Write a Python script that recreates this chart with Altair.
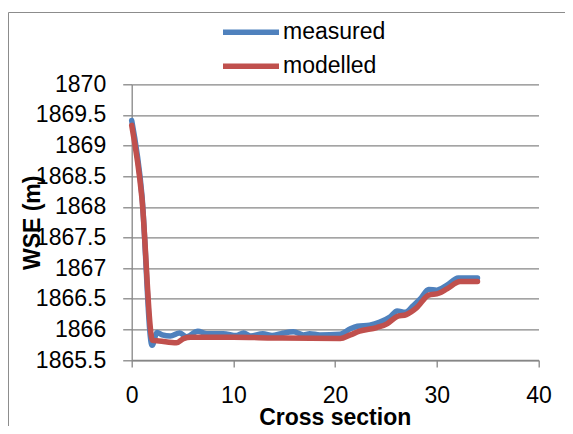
import altair as alt
import pandas as pd

# measured WSE
meas_x = [0, 1, 2, 2.5, 3, 3.8, 4.7, 5.4, 6.5, 7.4, 9, 10.3, 11, 11.7, 12.9, 13.8,
          14.7, 15.9, 16.9, 17.5, 18.5, 20.5, 21.5, 22.2, 23.4, 24.4, 25.4, 26.1,
          26.9, 27.7, 28.4, 29.2, 30, 31, 32.1, 34]
meas_y = [1869.41, 1868.2, 1865.74, 1865.95, 1865.91, 1865.89, 1865.94, 1865.88,
          1865.97, 1865.93, 1865.93, 1865.90, 1865.94, 1865.89, 1865.93, 1865.90,
          1865.93, 1865.96, 1865.91, 1865.93, 1865.91, 1865.92, 1866.01, 1866.05,
          1866.07, 1866.12, 1866.20, 1866.30, 1866.28, 1866.39, 1866.50, 1866.65,
          1866.64, 1866.72, 1866.84, 1866.84]

# modelled WSE
mod_x = [0, 1, 2.05, 2.7, 4.4, 5.1, 5.8, 10, 14, 20.5, 21.5, 22.4, 24.1, 25.1,
         26.1, 27, 28, 29.2, 30.2, 31, 32.3, 34]
mod_y = [1869.33, 1868.15, 1865.82, 1865.81, 1865.78, 1865.85, 1865.87, 1865.87,
         1865.86, 1865.85, 1865.91, 1865.97, 1866.03, 1866.09, 1866.21, 1866.24,
         1866.35, 1866.56, 1866.59, 1866.66, 1866.78, 1866.78]

series = ["measured", "modelled"]
colors = ["#4F81BD", "#C0504D"]
x_ticks = [0, 10, 20, 30, 40]
y_ticks = [1865.5, 1866, 1866.5, 1867, 1867.5, 1868, 1868.5, 1869, 1869.5, 1870]

df = pd.concat([
    pd.DataFrame({"x": meas_x, "y": meas_y, "s": series[0], "o": 0}),
    pd.DataFrame({"x": mod_x, "y": mod_y, "s": series[1], "o": 1}),
])

FONT = "Liberation Sans"
GRAY = "#868686"

lines = alt.Chart(df).mark_line(
    strokeWidth=5.5, interpolate="monotone", strokeCap="round", strokeJoin="round"
).encode(
    x=alt.X("x:Q", scale=alt.Scale(domain=[0, 40], nice=False),
            axis=alt.Axis(values=x_ticks, title="Cross section", grid=False,
                          tickSize=7, labelPadding=17, labelFlush=False,
                          labelOverlap=False, titleBaseline="alphabetic",
                          titleY=64, titleX=203, titleAlign="center")),
    y=alt.Y("y:Q", scale=alt.Scale(domain=[1865.5, 1870], nice=False, zero=False),
            axis=alt.Axis(values=y_ticks, format=".1~f", title="WSE (m)", grid=True,
                          tickSize=9, labelPadding=17, labelFlush=False,
                          labelOverlap=False, titleAngle=270,
                          titleBaseline="alphabetic", titleAlign="center",
                          titleX=-92, titleY=138)),
    color=alt.Color("s:N", scale=alt.Scale(domain=series, range=colors),
                    legend=alt.Legend(title=None, orient="none", legendX=88.3,
                                      legendY=-62, symbolType="stroke",
                                      symbolSize=3136, symbolStrokeWidth=5.5,
                                      labelOffset=1, clipHeight=20, rowPadding=11,
                                      padding=0, labelFont=FONT, labelFontSize=23,
                                      labelColor="black")),
    order="o:Q",
    detail="s:N",
)

border = alt.Chart(pd.DataFrame({"a": [0]})).mark_rect(
    fill=None, stroke="#8c8c8c", strokeWidth=1
).encode(
    x=alt.value(-123.2), x2=alt.value(700), y=alt.value(-71.8), y2=alt.value(700)
)

chart = alt.layer(border, lines).properties(
    width=406.8, height=275.7,
    autosize=alt.AutoSizeParams(type="none"),
    padding={"left": 123.7, "top": 76.3, "right": 26.5, "bottom": 66},
).configure_view(stroke=None).configure_axis(
    labelFont=FONT, labelFontSize=23, labelColor="black",
    titleFont=FONT, titleFontSize=23, titleFontWeight="bold", titleColor="black",
    domainColor=GRAY, domainWidth=1.3, tickColor=GRAY, tickWidth=1.3,
    gridColor=GRAY, gridWidth=1.3, gridOpacity=1,
)

chart.save("out.html", embed_options={"renderer": "svg", "actions": False})
